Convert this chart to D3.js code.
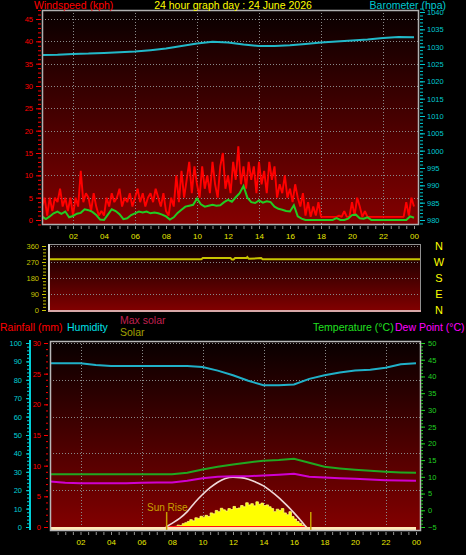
<!DOCTYPE html>
<html><head><meta charset="utf-8">
<script src="https://cdn.jsdelivr.net/npm/d3@7"></script>
<style>
body{margin:0;background:#000;}
svg{display:block;}
text{font-family:"Liberation Sans",Arial,sans-serif;}
</style>
</head><body>
<svg id="c" width="466" height="555"></svg>
<script>
// ---------- DATA ----------
const titleText = "24 hour graph day : 24 June 2026";
const hourTicks = [2,4,6,8,10,12,14,16,18,20,22,24];
const hourLabels = ["02","04","06","08","10","12","14","16","18","20","22","00"];
const gridHours = [2,6,10,14,18,22];

// wind gust (kph), one value every 10 minutes from 00:00 to 24:00
const gustStepMin = 10;
const windGust = [
 3,5,1,5,2,5,  4,7,3,5,2,5,  1,5,3,11,4,6,  5,2,6,3,1,2,
 1,5,3,6,4,5,  7,3,5,4,6,3,  5,7,4,6,3,5,  6,4,7,5,3,6,
 2,1,5,3,10,4, 11,5,9,13,6,12, 8,5,12,7,10,6, 13,8,5,12,15,7,
 10,6,13,9,16.5,8, 12,7,13,9,12,6, 13,8,11,6,13,9, 12,5,8,6,10,5,
 7,4,8,5,3,6, 1,4,0.7,3,1,4, 0.7,0.7,0.7,0.7,0.7,0.7, 0.7,1,0.7,2,0.7,0.7,
 4,1,5,3,0.7,2, 0.7,0.7,0.7,0.7,0.7,0.7, 0.7,0.7,0.7,0.7,0.7,0.7, 0.7,0.7,0.7,4,1,5,
 3];
// average wind (kph), one value every 15 minutes
const avgStepMin = 15;
const windAvg = [
 0.8,0.2,0.8,1.5, 1.9,1.4,1.9,0.6, 0.9,1.4,1.6,2.4, 2.2,1.8,1.1,0.1,
 0,1.2,2.4,2.0, 1.3,0.2,0.4,1.1, 1.5,1.9,1.7,1.9, 1.5,1.7,1.5,1.2,
 0.8,0.1,0.6,1.6, 2.3,3.0,3.2,3.4, 4.8,3.5,3.0,3.2, 3.4,3.2,3.3,4.0,
 4.5,4.1,5.1,6.0, 7.6,5.0,4.0,3.8, 4.4,3.9,4.2,4.0, 3.0,2.5,2.3,2.0,
 1.9,3.3,0.8,0.3, 0,0,0,0, 0,0,0,0, 0.4,0,0,0.3,
 1.1,1.2,0.4,0.3, 0.6,0,0,0, 0,0,0,0, 0,0,0,0.8,
 0.5];
// barometer (hpa), hourly
const baroHours = [0,1,2,3,4,5,6,7,8,9,10,11,12,13,14,15,16,17,18,19,20,21,22,23,24];
const baro = [1027.6,1027.7,1027.9,1028.0,1028.2,1028.4,1028.6,1029.0,1029.5,1030.2,1030.9,1031.4,1031.2,
              1030.6,1030.2,1030.2,1030.4,1030.8,1031.2,1031.5,1031.8,1032.1,1032.5,1032.8,1032.7];
// wind direction (degrees)
const dirHours = [0,10.0,10.1,11.9,12.0,12.1,12.2,12.95,13.0,13.1,13.9,14.0,24];
const dirDeg   = [285,285,292,292,284,284,292,292,298,288,292,285,285];
const compassLabels = ["N","W","S","E","N"];
const compassDeg = [360,270,180,90,0];
// hourly humidity (%), temperature and dew point (°C)
const climHours = [0,1,2,3,4,5,6,7,8,9,10,11,12,13,14,15,16,17,18,19,20,21,22,23,24];
const humidity = [89,89,89,88,87.5,87.5,87.5,87.5,87.5,87.5,87,85,82.5,79.5,77,77,77.5,80.5,82.5,84,85,85.5,86.5,88.5,89];
const temperature = [10.8,10.8,10.8,10.8,10.8,10.8,10.8,10.8,10.8,11.2,12.2,13.0,13.7,14.3,14.8,15.0,15.4,14.2,13.0,12.5,12.1,11.8,11.5,11.3,11.2];
const dewPoint = [8.6,8.2,8.1,8.1,8.1,8.1,8.2,8.3,8.3,8.8,9.6,10.0,10.2,10.2,10.4,10.6,10.9,10.0,9.8,9.6,9.4,9.2,9.0,8.9,8.8];
// rainfall (mm) hourly
const rainfall = [0,0,0,0,0,0,0,0,0,0,0,0,0,0,0,0,0,0,0,0,0,0,0,0,0];
// max solar (W/m2)
const maxSolarHours = [7.6,8.0,8.5,9.0,9.5,10.0,10.5,11.0,11.5,12.0,12.5,13.0,13.5,14.0,14.5,15.0,15.5,16.0,16.5,16.8];
const maxSolar = [0,60,140,250,400,530,640,730,790,810,805,780,730,670,580,480,360,230,90,0];
// solar (W/m2), every 10 minutes from 08:00
const solarStartHour = 8;
const solar = [0,10,30,25,55,70, 90,120,100,150,140,175, 160,190,170,230,215,270, 250,305,280,260,300,285,
               335,300,310,350,330,395, 360,380,345,410,370,390, 350,360,330,300,250,290,
               270,300,230,200,250,170, 130,90,60,30,10,0];
const sunRiseHour = 7.65, sunSetHour = 17.1;

// ---------- DRAW ----------
const svg = d3.select("#c");
const defs = svg.append("defs");
function grad(id){
  const g = defs.append("linearGradient").attr("id",id).attr("x1",0).attr("y1",0).attr("x2",0).attr("y2",1);
  g.append("stop").attr("offset","0%").attr("stop-color","#080000");
  g.append("stop").attr("offset","100%").attr("stop-color","#840000");
}
grad("g1");
function clip(id,x,y,w,h){ defs.append("clipPath").attr("id",id).append("rect").attr("x",x).attr("y",y).attr("width",w).attr("height",h); }

const FS = "7.5px";
function styleAxis(g,color,fs,keepDomain){
  if(!keepDomain) g.select(".domain").remove(); else g.select(".domain").attr("stroke",color).attr("stroke-width",2);
  g.selectAll(".tick line").attr("stroke",color);
  g.selectAll("text").attr("fill",color).style("font-size",fs||FS).style("font-family","'Liberation Sans',Arial,sans-serif");
}
function gridDots(g, x1,x2,y1,y2){
  g.append("line").attr("x1",x1).attr("x2",x2).attr("y1",y1).attr("y2",y2)
   .attr("stroke","#8a8a8a").attr("stroke-width",1).attr("stroke-dasharray","1,2");
}

// ===== TOP PANEL =====
const T = {l:42, r:419, t:10, b:225};
const xT = d3.scaleLinear([0,24],[42,414]);
const windY = d3.scaleLinear([0,45],[220,19]);
const baroY = d3.scaleLinear([980,1040],[220,12]);
svg.append("rect").attr("x",T.l).attr("y",T.t).attr("width",T.r-T.l).attr("height",T.b-T.t).attr("fill","url(#g1)");
clip("cT",T.l,T.t,T.r-T.l,T.b-T.t);
const gT = svg.append("g");
d3.range(5,50,5).forEach(v=>gridDots(gT,T.l,T.r,Math.round(windY(v))+0.5,Math.round(windY(v))+0.5));
gridHours.forEach(h=>gridDots(gT,Math.round(xT(h))+0.5,Math.round(xT(h))+0.5,T.t,T.b));
const pT = svg.append("g").attr("clip-path","url(#cT)");
pT.append("path").datum(windGust).attr("fill","none").attr("stroke","#ff0000").attr("stroke-width",1.9)
  .attr("stroke-linejoin","bevel")
  .attr("d",d3.line().x((d,i)=>xT(i*gustStepMin/60)).y(d=>windY(d)));
pT.append("path").datum(windAvg).attr("fill","none").attr("stroke","#22cc22").attr("stroke-width",2)
  .attr("d",d3.line().x((d,i)=>xT(i*avgStepMin/60)).y(d=>windY(d)));
pT.append("path").datum(baro).attr("fill","none").attr("stroke","#22b8c8").attr("stroke-width",2)
  .attr("d",d3.line().x((d,i)=>xT(baroHours[i])).y(d=>baroY(d)));
svg.append("rect").attr("x",T.l+0.5).attr("y",T.t+0.5).attr("width",T.r-T.l-1).attr("height",T.b-T.t-1)
  .attr("fill","none").attr("stroke","#b0b0b0").attr("stroke-width",1.5);
// axes
styleAxis(svg.append("g").attr("transform","translate(41,0)")
  .call(d3.axisLeft(windY).tickValues(d3.range(-1,48,1)).tickSize(3).tickFormat("")),"#ff0000");
styleAxis(svg.append("g").attr("transform","translate(41,0)")
  .call(d3.axisLeft(windY).tickValues(d3.range(0,50,5)).tickSize(5).tickPadding(3)),"#ff0000");
styleAxis(svg.append("g").attr("transform","translate(420,0)")
  .call(d3.axisRight(baroY).tickValues(d3.range(979,1042,1)).tickSize(3).tickFormat("")),"#00c8d0");
styleAxis(svg.append("g").attr("transform","translate(420,0)")
  .call(d3.axisRight(baroY).tickValues(d3.range(980,1045,5)).tickSize(5).tickPadding(2).tickFormat(d3.format("d"))),"#00c8d0");
styleAxis(svg.append("g").attr("transform",`translate(0,${T.b+1})`)
  .call(d3.axisBottom(xT).tickValues(d3.range(0.5,24.5,0.5)).tickSize(3).tickFormat("")),"#909090");
styleAxis(svg.append("g").attr("transform",`translate(0,${T.b+1})`)
  .call(d3.axisBottom(xT).tickValues(hourTicks).tickSize(0).tickPadding(7).tickFormat((d,i)=>hourLabels[i])),"#e8e800","8px");
svg.append("text").attr("x",233).attr("y",9).attr("text-anchor","middle").attr("fill","#ffff00").style("font-size","10.5px").text(titleText);
svg.append("text").attr("x",34).attr("y",9).attr("fill","#ff0000").style("font-size","10.5px").text("Windspeed (kph)");
svg.append("text").attr("x",446).attr("y",9).attr("text-anchor","end").attr("fill","#00c8d0").style("font-size","10.5px").text("Barometer (hpa)");

// ===== MIDDLE PANEL =====
const M = {l:48, r:421, t:244, b:312};
const xM = d3.scaleLinear([0,24],[48,416]);
const dirY = d3.scaleLinear([0,360],[310,246]);
svg.append("rect").attr("x",M.l).attr("y",M.t).attr("width",M.r-M.l).attr("height",M.b-M.t).attr("fill","url(#g1)");
const gM = svg.append("g");
[90,180,270,360].forEach(v=>gridDots(gM,M.l,M.r,Math.round(dirY(v))+0.5,Math.round(dirY(v))+0.5));
svg.append("path").datum(dirDeg).attr("fill","none").attr("stroke","#c8c400").attr("stroke-width",2)
  .attr("d",d3.line().x((d,i)=>i===dirDeg.length-1?M.r:xM(dirHours[i])).y(d=>dirY(d)));
svg.append("line").attr("x1",M.l).attr("x2",M.r).attr("y1",M.t+0.5).attr("y2",M.t+0.5).attr("stroke","#909090");
svg.append("line").attr("x1",M.r-0.5).attr("x2",M.r-0.5).attr("y1",M.t).attr("y2",M.b).attr("stroke","#909090");
svg.append("line").attr("x1",M.l+1).attr("x2",M.l+1).attr("y1",M.t).attr("y2",M.b).attr("stroke","#d8d8d8").attr("stroke-width",2);
svg.append("line").attr("x1",M.l).attr("x2",M.r).attr("y1",M.b-1).attr("y2",M.b-1).attr("stroke","#d8a8a8").attr("stroke-width",2);
styleAxis(svg.append("g").attr("transform","translate(46,0)")
  .call(d3.axisLeft(dirY).tickValues(d3.range(0,361,18)).tickSize(3).tickFormat("")),"#c8c400");
styleAxis(svg.append("g").attr("transform","translate(46,0)")
  .call(d3.axisLeft(dirY).tickValues([0,90,180,270,360]).tickSize(4).tickPadding(3)),"#c8c400");
svg.append("g").selectAll("text").data(compassLabels).join("text")
  .attr("x",439).attr("y",(d,i)=>dirY(compassDeg[i])+4).attr("text-anchor","middle")
  .attr("fill","#ffff00").style("font-size","11px").text(d=>d);

// ===== BOTTOM PANEL =====
const B = {l:50, r:421, t:341, b:531};
const xB = d3.scaleLinear([0,24],[50,416]);
const humY = d3.scaleLinear([0,100],[527,343]);
const rainY = d3.scaleLinear([0,30],[527,343]);
const tempY = d3.scaleLinear([-5,50],[527,343]);
const solarY = d3.scaleLinear([0,3000],[527,343]);
svg.append("rect").attr("x",B.l).attr("y",B.t).attr("width",B.r-B.l).attr("height",B.b-B.t).attr("fill","url(#g1)");
clip("cB",B.l,B.t,B.r-B.l,B.b-B.t);
const gB = svg.append("g");
d3.range(20,101,20).forEach(v=>gridDots(gB,B.l,B.r,Math.round(humY(v))+0.5,Math.round(humY(v))+0.5));
gridHours.forEach(h=>gridDots(gB,Math.round(xB(h))+0.5,Math.round(xB(h))+0.5,B.t,B.b));
const pB = svg.append("g").attr("clip-path","url(#cB)");
// solar area
pB.append("path").datum(solar).attr("fill","#ffff00").attr("stroke","#ffff70").attr("stroke-width",0.8)
  .attr("d",d3.area().x((d,i)=>xB(solarStartHour+i/6)).y0(solarY(0)).y1(d=>solarY(d)).curve(d3.curveStepAfter));
pB.append("line").attr("x1",xB(maxSolarHours[0])).attr("x2",xB(maxSolarHours[maxSolarHours.length-1]))
  .attr("y1",solarY(0)).attr("y2",solarY(0)).attr("stroke","#ff1010").attr("stroke-width",2);
pB.append("path").datum(maxSolar).attr("fill","none").attr("stroke","#f0d8d8").attr("stroke-width",1.6)
  .attr("d",d3.line().x((d,i)=>xB(maxSolarHours[i])).y(d=>solarY(d)).curve(d3.curveMonotoneX));
// rain baseline band
pB.append("path").datum(rainfall).attr("fill","#ffe8b8").attr("stroke","#ffe8b8").attr("stroke-width",3)
  .attr("d",d3.area().x((d,i)=>xB(climHours[i])).y0(rainY(0)+1.5).y1(d=>rainY(d)+1.5));
pB.append("path").datum(humidity).attr("fill","none").attr("stroke","#20b0c8").attr("stroke-width",2)
  .attr("d",d3.line().x((d,i)=>xB(climHours[i])).y(d=>humY(d)));
pB.append("path").datum(dewPoint).attr("fill","none").attr("stroke","#d000d0").attr("stroke-width",2)
  .attr("d",d3.line().x((d,i)=>xB(climHours[i])).y(d=>tempY(d)));
pB.append("path").datum(temperature).attr("fill","none").attr("stroke","#20a820").attr("stroke-width",2)
  .attr("d",d3.line().x((d,i)=>xB(climHours[i])).y(d=>tempY(d)));
// sunrise / sunset markers
[sunRiseHour,sunSetHour].forEach(h=>svg.append("line").attr("x1",xB(h)).attr("x2",xB(h)).attr("y1",512).attr("y2",530)
  .attr("stroke","#c8a000").attr("stroke-width",1.5));
svg.append("text").attr("x",147).attr("y",511).attr("fill","#c8a000").style("font-size","10px").text("Sun Rise");
svg.append("rect").attr("x",B.l+0.5).attr("y",B.t+0.5).attr("width",B.r-B.l-1).attr("height",B.b-B.t-1)
  .attr("fill","none").attr("stroke","#b8b8b8").attr("stroke-width",1.5);
// axes
styleAxis(svg.append("g").attr("transform","translate(30,0)")
  .call(d3.axisLeft(humY).tickValues(d3.range(0,101,2)).tickSize(3).tickFormat("")),"#00d0d8");
const hA = svg.append("g").attr("transform","translate(30,0)")
  .call(d3.axisLeft(humY).tickValues(d3.range(0,101,10)).tickSize(4).tickPadding(4).tickSizeOuter(0));
styleAxis(hA,"#00d0d8",FS,true);
hA.select(".domain").attr("d","M0,340V530");
styleAxis(svg.append("g").attr("transform","translate(48,0)")
  .call(d3.axisLeft(rainY).tickValues(d3.range(0,31,1)).tickSize(2).tickFormat("")),"#ff0000");
styleAxis(svg.append("g").attr("transform","translate(48,0)")
  .call(d3.axisLeft(rainY).tickValues(d3.range(0,31,5)).tickSize(4).tickPadding(3)),"#ff0000");
styleAxis(svg.append("g").attr("transform","translate(421,0)")
  .call(d3.axisRight(tempY).tickValues(d3.range(-5,51,1)).tickSize(2).tickFormat("")),"#20d020");
styleAxis(svg.append("g").attr("transform","translate(421,0)")
  .call(d3.axisRight(tempY).tickValues(d3.range(-5,51,5)).tickSize(4).tickPadding(3)),"#20d020");
styleAxis(svg.append("g").attr("transform",`translate(0,${B.b+1})`)
  .call(d3.axisBottom(xB).tickValues(d3.range(0.5,24.5,0.5)).tickSize(3).tickFormat("")),"#909090");
styleAxis(svg.append("g").attr("transform",`translate(0,${B.b+1})`)
  .call(d3.axisBottom(xB).tickValues(hourTicks).tickSize(0).tickPadding(7).tickFormat((d,i)=>hourLabels[i])),"#e8e800","8px");
// legends
const leg = [
  {t:"Rainfall (mm)", x:0, y:331, c:"#ff0000"},
  {t:"Humidity", x:67, y:331, c:"#00e0e8"},
  {t:"Max solar", x:120, y:324, c:"#c02050"},
  {t:"Solar", x:120, y:336, c:"#a0a000"},
  {t:"Temperature (°C)", x:313, y:331, c:"#20e020"},
  {t:"Dew Point (°C)", x:395, y:331, c:"#ff00ff"}
];
svg.append("g").selectAll("text").data(leg).join("text")
  .attr("x",d=>d.x).attr("y",d=>d.y).attr("fill",d=>d.c).style("font-size","10.5px").text(d=>d.t);
</script>
</body></html>
